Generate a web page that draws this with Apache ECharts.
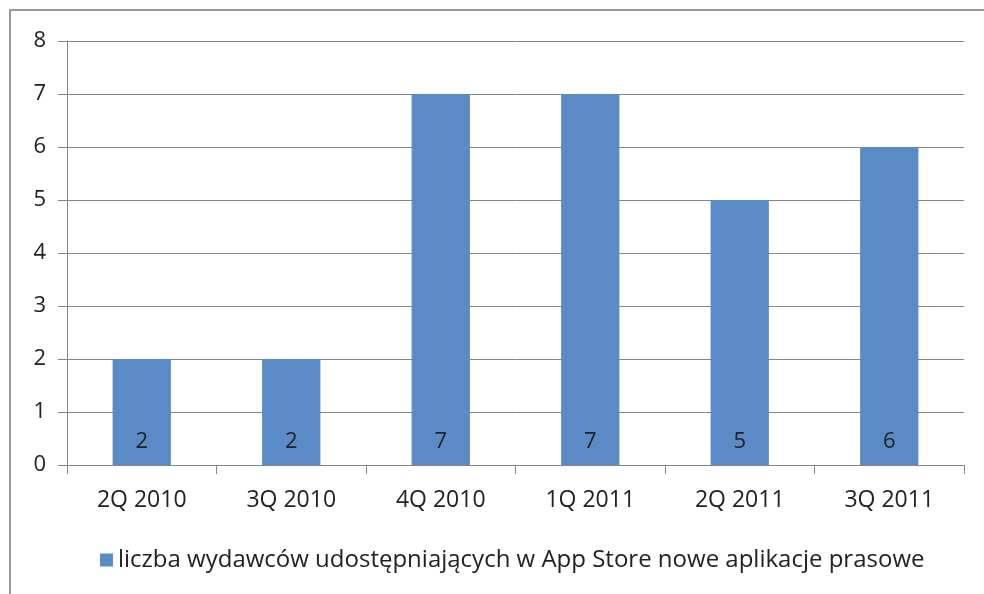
<!DOCTYPE html>
<html>
<head>
<meta charset="utf-8">
<script src="https://cdn.jsdelivr.net/npm/echarts@6/dist/echarts.min.js"></script>
<style>
  html, body { margin: 0; padding: 0; background: #fff; }
  #main { width: 984px; height: 594px; }
</style>
</head>
<body>
<div id="main"></div>
<script>
var categories = ['2Q 2010', '3Q 2010', '4Q 2010', '1Q 2011', '2Q 2011', '3Q 2011'];
var values = [2, 2, 7, 7, 5, 6];
var seriesName = 'liczba wydawców udostępniających w App Store nowe aplikacje prasowe';

var myChart = echarts.init(document.getElementById('main'));
var font = '"Open Sans", "Noto Sans", sans-serif';

var option = {
    backgroundColor: '#fff',
    animation: false,
    textStyle: { fontFamily: font },
    graphic: [{
        type: 'rect',
        shape: { x: 10, y: 10, width: 1200, height: 1200 },
        style: { fill: 'none', stroke: '#999', lineWidth: 2 },
        silent: true
    }],
    grid: { left: 67, right: 20, top: 41, bottom: 129 },
    legend: {
        bottom: 17,
        left: 95,
        itemWidth: 13,
        itemHeight: 13,
        icon: 'rect',
        itemGap: 5,
        textStyle: { fontSize: 24, color: '#222', fontFamily: font },
        data: [seriesName]
    },
    xAxis: {
        type: 'category',
        data: categories,
        axisLine: { lineStyle: { color: '#868686', width: 1 } },
        axisTick: { show: true, length: 9, lineStyle: { color: '#868686' } },
        axisLabel: { fontSize: 23, color: '#222', margin: 24, fontFamily: font }
    },
    yAxis: {
        type: 'value',
        min: 0,
        max: 8,
        interval: 1,
        axisLine: { show: true, lineStyle: { color: '#868686', width: 1 } },
        axisTick: { show: true, length: 9, lineStyle: { color: '#868686' } },
        splitLine: { lineStyle: { color: '#868686', width: 1 } },
        axisLabel: { fontSize: 22, color: '#222', margin: 21, fontFamily: font }
    },
    series: [{
        name: seriesName,
        type: 'bar',
        data: values,
        barWidth: '39%',
        itemStyle: { color: '#5b8bc6' },
        label: {
            show: true,
            position: 'insideBottom',
            distance: 12,
            fontSize: 22,
            color: '#222',
            fontFamily: font
        }
    }]
};

myChart.setOption(option);
</script>
</body>
</html>
